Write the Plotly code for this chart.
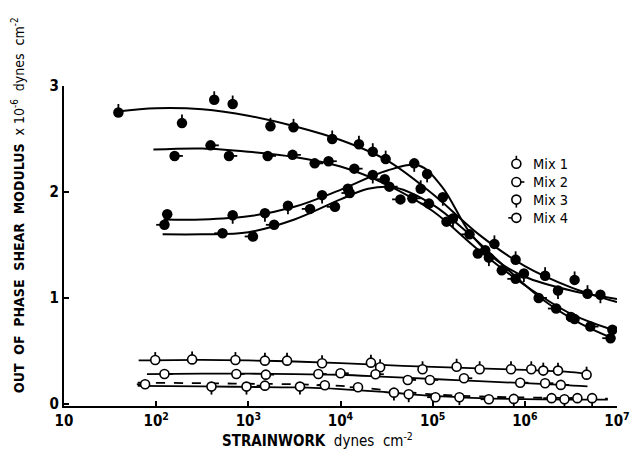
import numpy as np
import plotly.graph_objects as go

# ---- data: strain work given as log10(dynes cm^-2), modulus in units of 1e6 dynes cm^-2 ----
# filled symbols (upper group)
mix1_f_logx = [1.59, 2.28, 2.63, 2.83, 3.24, 3.49, 3.91, 4.20, 4.35, 4.49, 4.87, 5.67, 5.90, 6.22, 6.54, 6.68]
mix1_f_g = [2.75, 2.65, 2.87, 2.83, 2.62, 2.61, 2.50, 2.45, 2.38, 2.31, 2.03, 1.51, 1.36, 1.21, 1.17, 1.04]
mix2_f_logx = [2.20, 2.59, 2.79, 3.21, 3.48, 3.72, 3.87, 4.15, 4.53, 4.78, 5.15, 5.49, 5.75, 6.15, 6.50, 6.71, 6.95]
mix2_f_g = [2.34, 2.44, 2.34, 2.34, 2.35, 2.27, 2.29, 2.22, 2.05, 1.94, 1.72, 1.42, 1.26, 1.00, 0.82, 0.73, 0.70]
mix3_f_logx = [2.12, 2.83, 3.18, 3.43, 3.80, 4.08, 4.35, 4.80, 4.94, 5.11, 5.22, 5.61, 5.99, 6.36, 6.82]
mix3_f_g = [1.79, 1.78, 1.80, 1.87, 1.97, 2.03, 2.16, 2.27, 2.17, 1.95, 1.75, 1.38, 1.23, 1.07, 1.03]
mix4_f_logx = [2.09, 2.72, 3.05, 3.28, 3.67, 3.94, 4.10, 4.48, 4.65, 4.96, 5.40, 5.57, 5.90, 6.34, 6.54, 6.93]
mix4_f_g = [1.69, 1.61, 1.58, 1.69, 1.84, 1.86, 1.99, 2.12, 1.93, 1.89, 1.60, 1.45, 1.18, 0.90, 0.80, 0.62]

# open symbols (lower group)
mix1_o_logx = [1.99, 2.39, 2.86, 3.18, 3.42, 3.80, 4.33, 4.43, 4.89, 5.26, 5.51, 5.85, 6.07, 6.20, 6.36, 6.67]
mix1_o_g = [0.414, 0.420, 0.414, 0.408, 0.408, 0.383, 0.389, 0.346, 0.327, 0.351, 0.327, 0.327, 0.327, 0.314, 0.314, 0.276]
mix2_o_logx = [2.09, 2.87, 3.19, 3.76, 4.00, 4.38, 4.73, 4.97, 5.34, 5.95, 6.22, 6.39]
mix2_o_g = [0.282, 0.282, 0.276, 0.282, 0.289, 0.280, 0.226, 0.226, 0.242, 0.200, 0.195, 0.179]
mix3_o_logx = [2.60, 2.98, 3.56, 4.58, 4.74, 5.29, 5.88, 6.43, 6.73]
mix3_o_g = [0.163, 0.163, 0.163, 0.106, 0.091, 0.063, 0.047, 0.044, 0.054]
mix4_o_logx = [1.88, 3.18, 3.83, 4.19, 5.03, 5.61, 6.29, 6.57]
mix4_o_g = [0.185, 0.172, 0.176, 0.157, 0.063, 0.044, 0.054, 0.054]

# smoothed fitted curves
curve1_f_logx = [1.58, 2.0, 2.5, 3.0, 3.5, 4.0, 4.5, 5.0, 5.5, 6.0, 6.5, 7.0]
curve1_f_g = [2.76, 2.79, 2.78, 2.72, 2.62, 2.49, 2.30, 1.98, 1.60, 1.30, 1.10, 0.96]
curve2_f_logx = [1.97, 2.5, 3.0, 3.5, 4.0, 4.5, 5.0, 5.5, 6.0, 6.5, 6.95]
curve2_f_g = [2.40, 2.41, 2.38, 2.33, 2.24, 2.07, 1.82, 1.45, 1.12, 0.85, 0.70]
curve3_f_logx = [2.08, 2.5, 3.0, 3.5, 4.0, 4.5, 4.85, 5.1, 5.4, 5.7, 6.0, 6.5, 7.0]
curve3_f_g = [1.74, 1.74, 1.77, 1.86, 2.02, 2.20, 2.25, 2.05, 1.62, 1.35, 1.20, 1.07, 0.99]
curve4_f_logx = [2.07, 2.5, 3.0, 3.5, 4.0, 4.3, 4.6, 5.0, 5.4, 5.8, 6.2, 6.6, 6.95]
curve4_f_g = [1.60, 1.60, 1.62, 1.74, 1.93, 2.03, 2.04, 1.88, 1.60, 1.28, 0.98, 0.76, 0.62]

curve1_o_logx = [1.81, 2.5, 3.0, 3.5, 4.0, 4.5, 5.0, 5.5, 6.0, 6.5, 6.7]
curve1_o_g = [0.41, 0.415, 0.41, 0.40, 0.385, 0.365, 0.35, 0.335, 0.32, 0.30, 0.28]
curve2_o_logx = [1.9, 2.5, 3.0, 3.5, 4.0, 4.5, 5.0, 5.5, 6.0, 6.4, 6.68]
curve2_o_g = [0.28, 0.285, 0.285, 0.28, 0.275, 0.255, 0.235, 0.215, 0.195, 0.18, 0.165]
curve3_o_logx = [1.8, 2.5, 3.0, 3.5, 4.0, 4.5, 5.0, 5.5, 6.0, 6.5, 6.9]
curve3_o_g = [0.17, 0.165, 0.16, 0.155, 0.14, 0.11, 0.075, 0.055, 0.045, 0.04, 0.04]
curve4_o_logx = [1.8, 2.5, 3.0, 3.5, 4.0, 4.5, 5.0, 5.5, 6.0, 6.5, 6.9]
curve4_o_g = [0.20, 0.195, 0.19, 0.185, 0.17, 0.13, 0.09, 0.07, 0.06, 0.055, 0.05]

series_names = ["Mix 1", "Mix 2", "Mix 3", "Mix 4"]
tick_exponents = [1, 2, 3, 4, 5, 6, 7]
tick_labels = ["10", "10<sup>2</sup>", "10<sup>3</sup>", "10<sup>4</sup>",
               "10<sup>5</sup>", "10<sup>6</sup>", "10<sup>7</sup>"]

FONT = "DejaVu Sans Condensed, Liberation Sans Narrow, sans-serif"
INK = "black"


def pow10(a):
    return [10 ** v for v in a]


def b(s):
    return "<b>" + s + "</b>"


# each mix is marked by a short stroke on its symbol: up, right, down, left
def stroke(direction, n, yunit=0.08, pct_right=23.0, pct_left=18.7):
    off = dict(visible=False)
    if direction == "up":
        return dict(error_y=dict(type="data", symmetric=False, array=[yunit] * n,
                                 arrayminus=[0] * n, width=0, thickness=1.8, color=INK),
                    error_x=off)
    if direction == "down":
        return dict(error_y=dict(type="data", symmetric=False, array=[0] * n,
                                 arrayminus=[yunit] * n, width=0, thickness=1.8, color=INK),
                    error_x=off)
    if direction == "right":
        return dict(error_x=dict(type="percent", symmetric=False, value=pct_right,
                                 valueminus=0, width=0, thickness=1.8, color=INK),
                    error_y=off)
    return dict(error_x=dict(type="percent", symmetric=False, value=0,
                             valueminus=pct_left, width=0, thickness=1.8, color=INK),
                error_y=off)


fig = go.Figure()

# fitted curves
filled_curves = [(curve1_f_logx, curve1_f_g), (curve2_f_logx, curve2_f_g),
                 (curve3_f_logx, curve3_f_g), (curve4_f_logx, curve4_f_g)]
for cx, cy in filled_curves:
    fig.add_trace(go.Scatter(x=pow10(cx), y=cy, mode="lines",
                             line=dict(color=INK, width=2, shape="spline", smoothing=1.0),
                             showlegend=False, hoverinfo="skip"))

open_curves = [(curve1_o_logx, curve1_o_g, "solid"), (curve2_o_logx, curve2_o_g, "solid"),
               (curve3_o_logx, curve3_o_g, "solid"), (curve4_o_logx, curve4_o_g, "dash")]
for cx, cy, dash in open_curves:
    fig.add_trace(go.Scatter(x=pow10(cx), y=cy, mode="lines",
                             line=dict(color=INK, width=1.8, dash=dash, shape="spline", smoothing=1.0),
                             showlegend=False, hoverinfo="skip"))

directions = ["up", "right", "down", "left"]

filled_sets = [(mix1_f_logx, mix1_f_g), (mix2_f_logx, mix2_f_g),
               (mix3_f_logx, mix3_f_g), (mix4_f_logx, mix4_f_g)]
for name, (px, py), d in zip(series_names, filled_sets, directions):
    fig.add_trace(go.Scatter(x=pow10(px), y=py, mode="markers", name=name,
                             marker=dict(symbol="circle", size=10.5, color=INK,
                                         line=dict(color=INK, width=0)),
                             showlegend=False, **stroke(d, len(px))))

open_sets = [(mix1_o_logx, mix1_o_g), (mix2_o_logx, mix2_o_g),
             (mix3_o_logx, mix3_o_g), (mix4_o_logx, mix4_o_g)]
for name, (px, py), d in zip(series_names, open_sets, directions):
    fig.add_trace(go.Scatter(x=pow10(px), y=py, mode="markers", name=name,
                             marker=dict(symbol="circle", size=9, color="white",
                                         line=dict(color=INK, width=1.6)),
                             showlegend=False, **stroke(d, len(px), yunit=0.075)))

# key: open symbols with their strokes, drawn on an overlay axis spanning the plot area
key_x = 0.818
key_y = [0.757, 0.700, 0.645, 0.588]
for name, ky, d in zip(series_names, key_y, directions):
    if d in ("up", "down"):
        eb = dict(error_y=dict(type="data", symmetric=False,
                               array=[0.025 if d == "up" else 0],
                               arrayminus=[0.025 if d == "down" else 0],
                               width=0, thickness=1.6, color=INK),
                  error_x=dict(visible=False))
    else:
        eb = dict(error_x=dict(type="data", symmetric=False,
                               array=[0.0145 if d == "right" else 0],
                               arrayminus=[0.0145 if d == "left" else 0],
                               width=0, thickness=1.6, color=INK),
                  error_y=dict(visible=False))
    fig.add_trace(go.Scatter(x=[key_x], y=[ky], xaxis="x2", yaxis="y2", mode="markers",
                             marker=dict(symbol="circle", size=9, color="white",
                                         line=dict(color=INK, width=1.6)),
                             showlegend=False, hoverinfo="skip", **eb))
    fig.add_annotation(x=key_x + 0.026, y=ky, xref="x2", yref="y2", text=name,
                       showarrow=False, xanchor="left", yanchor="middle",
                       font=dict(family=FONT, size=14.5, color=INK))

fig.update_layout(
    width=642, height=458,
    margin=dict(l=64, r=15, t=85.5, b=52),
    paper_bgcolor="white", plot_bgcolor="white",
    showlegend=False,
    font=dict(family=FONT, color=INK, size=15),
    xaxis=dict(type="log", range=[1, 7], tickvals=pow10(tick_exponents),
               ticktext=[b(t) for t in tick_labels],
               showline=True, linecolor=INK, linewidth=2, ticks="inside", ticklen=5,
               tickwidth=1.5, tickcolor=INK, showgrid=False, zeroline=False,
               tickfont=dict(family=FONT, size=15, color=INK)),
    yaxis=dict(range=[-0.02, 3.0], tickvals=[0, 1, 2, 3],
               ticktext=[b(t) for t in ["0", "1", "2", "3"]],
               showline=True, linecolor=INK, linewidth=2, ticks="inside", ticklen=5,
               tickwidth=1.5, tickcolor=INK, showgrid=False, zeroline=False,
               tickfont=dict(family=FONT, size=15, color=INK)),
    xaxis2=dict(overlaying="x", range=[0, 1], visible=False),
    yaxis2=dict(overlaying="y", range=[0, 1], visible=False),
)

fig.add_annotation(text="<b>STRAINWORK</b>&nbsp;&nbsp;dynes&nbsp;&nbsp;cm<sup>-2</sup>",
                   xref="paper", yref="paper", x=0.458, y=-0.106,
                   showarrow=False, xanchor="center", yanchor="middle",
                   font=dict(family=FONT, size=15, color=INK))
fig.add_annotation(text="<b>OUT&nbsp;&nbsp;OF&nbsp;&nbsp;PHASE&nbsp;&nbsp;SHEAR&nbsp;&nbsp;MODULUS</b>&nbsp;&nbsp;x 10<sup>-6</sup>&nbsp;&nbsp;dynes&nbsp;&nbsp;cm<sup>-2</sup>",
                   xref="paper", yref="paper", x=-0.082, y=0.627, textangle=-90,
                   showarrow=False, xanchor="center", yanchor="middle",
                   font=dict(family=FONT, size=14, color=INK))

fig.write_html("out.html", config={"displayModeBar": False})
